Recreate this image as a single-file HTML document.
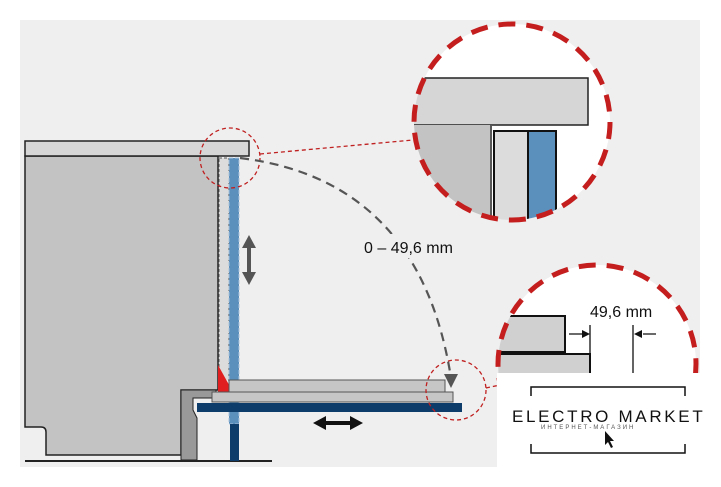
<!DOCTYPE html>
<html><head><meta charset="utf-8"><style>
html,body{margin:0;padding:0;background:#fff;}
svg{display:block;font-family:"Liberation Sans",sans-serif;}
</style></head><body>
<svg width="721" height="487" viewBox="0 0 721 487">
<rect x="20" y="20" width="680" height="447" fill="#efefef"/>
<path d="M25,156 H218 V390 H181 V455 H46 V432 Q46,427 41,427 H25 Z" fill="#c3c3c3" stroke="#222" stroke-width="1.5"/>
<path d="M181,390 H216 V398 H193 V410 L197,418 V460 H181 Z" fill="#999" stroke="#222" stroke-width="1"/>
<line x1="25" y1="461" x2="272" y2="461" stroke="#222" stroke-width="2"/>
<rect x="25" y="141" width="224" height="15" fill="#d6d6d6" stroke="#222" stroke-width="1.5"/>
<rect x="219" y="158" width="10" height="222" fill="#dcdcdc" stroke="#555" stroke-width="1" stroke-dasharray="3,2"/>
<rect x="229" y="158" width="10" height="266" fill="#5b8fbc" stroke="#a9c3dd" stroke-width="1" stroke-dasharray="4,2"/>
<path d="M218,365 L218,392 L233,392 Z" fill="#e02020"/>
<rect x="229" y="380" width="216" height="12" fill="#c6c6c6" stroke="#555" stroke-width="1"/>
<rect x="212" y="392" width="241" height="10" fill="#c6c6c6" stroke="#555" stroke-width="1"/>
<rect x="197" y="403" width="265" height="9" fill="#0d3c6a"/>
<rect x="230" y="424" width="9" height="37" fill="#0d3c6a"/>
<path d="M249,235 L256,248 H251 V272 H256 L249,285 L242,272 H247 V248 H242 Z" fill="#555"/>
<path d="M313,423 L326,416 V421 H350 V416 L363,423 L350,430 V425 H326 V430 Z" fill="#111"/>
<circle cx="230" cy="158" r="30" fill="none" stroke="#c02020" stroke-width="1.3" stroke-dasharray="4,3"/>
<circle cx="456" cy="390" r="30" fill="none" stroke="#c02020" stroke-width="1.3" stroke-dasharray="4,3"/>
<line x1="260" y1="154" x2="413" y2="140" stroke="#c02020" stroke-width="1.3" stroke-dasharray="4,3"/>
<line x1="486" y1="388" x2="500" y2="385" stroke="#c02020" stroke-width="1.3" stroke-dasharray="4,3"/>
<path d="M240,158 Q420,180 451,378" fill="none" stroke="#555" stroke-width="2.2" stroke-dasharray="9,6"/>
<path d="M444,374 L458,374 L451,388 Z" fill="#555"/>
<rect x="360" y="234" width="118" height="24" fill="#efefef"/>
<text x="364" y="253" font-size="16" fill="#111">0 – 49,6 mm</text>
<defs>
<clipPath id="c1"><circle cx="512" cy="122" r="98"/></clipPath>
<clipPath id="c2"><circle cx="597" cy="364" r="99"/></clipPath>
</defs>
<circle cx="512" cy="122" r="98" fill="#fff"/>
<g clip-path="url(#c1)">
<rect x="400" y="78" width="188" height="47" fill="#d6d6d6" stroke="#222" stroke-width="1.5"/>
<rect x="400" y="125" width="90" height="110" fill="#c3c3c3"/>
<line x1="491" y1="126" x2="491" y2="235" stroke="#222" stroke-width="1.5"/>
<rect x="494" y="131" width="34" height="100" fill="#dcdcdc" stroke="#111" stroke-width="2"/>
<rect x="528" y="131" width="28" height="100" fill="#5b8fbc" stroke="#111" stroke-width="2"/>
</g>
<circle cx="512" cy="122" r="98" fill="none" stroke="#c41e1e" stroke-width="5" stroke-dasharray="17,11"/>
<circle cx="597" cy="364" r="99" fill="#fff"/>
<g clip-path="url(#c2)">
<rect x="490" y="316" width="75" height="36" fill="#d0d0d0" stroke="#111" stroke-width="2"/>
<rect x="490" y="354" width="100" height="30" fill="#d0d0d0" stroke="#111" stroke-width="2"/>
<line x1="590" y1="325" x2="590" y2="354" stroke="#111" stroke-width="1.3"/>
<line x1="633" y1="325" x2="633" y2="380" stroke="#111" stroke-width="1.3"/>
<line x1="569" y1="334" x2="583" y2="334" stroke="#111" stroke-width="1.3"/>
<path d="M590,334 L582,330 L582,338 Z" fill="#111"/>
<line x1="643" y1="334" x2="656" y2="334" stroke="#111" stroke-width="1.3"/>
<path d="M634,334 L642,330 L642,338 Z" fill="#111"/>
</g>
<circle cx="597" cy="364" r="99" fill="none" stroke="#c41e1e" stroke-width="5" stroke-dasharray="17,11"/>
<text x="590" y="317" font-size="16" fill="#111">49,6 mm</text>
<rect x="497" y="373" width="224" height="94" fill="#fff"/>
<path d="M531,396 V387 H685 V396" fill="none" stroke="#111" stroke-width="1.5"/>
<path d="M531,444 V453 H685 V444" fill="none" stroke="#111" stroke-width="1.5"/>
<text x="512" y="422" font-size="17" letter-spacing="2.3" textLength="193" lengthAdjust="spacing" fill="#111">ELECTRO MARKET</text>
<text x="541" y="429" font-size="6" letter-spacing="2" fill="#555">ИНТЕРНЕТ-МАГАЗИН</text>
<path d="M605,431 L605,445 L608,442 L611,448 L613,447 L610,441 L614,441 Z" fill="#111"/>
</svg>
</body></html>
